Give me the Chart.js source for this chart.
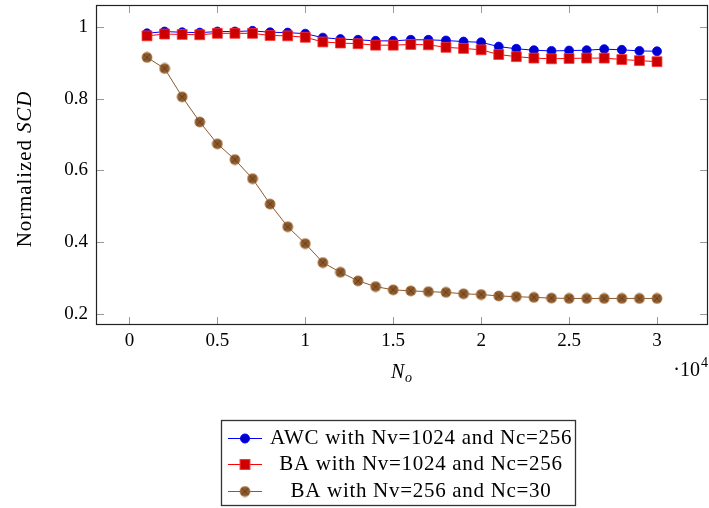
<!DOCTYPE html>
<html>
<head>
<meta charset="utf-8">
<script src="https://cdn.jsdelivr.net/npm/chart.js@4"></script>
<style>
  html, body { margin: 0; padding: 0; background: #fff; }
  #wrap { width: 709px; height: 508px; position: relative; }
</style>
</head>
<body>
<div id="wrap"><canvas id="grafico" width="709" height="508"></canvas></div>
<script>
// Numero de objetos (eje x)
const numObjetos = [1000, 2000, 3000, 4000, 5000, 6000, 7000, 8000, 9000, 10000,
  11000, 12000, 13000, 14000, 15000, 16000, 17000, 18000, 19000, 20000,
  21000, 22000, 23000, 24000, 25000, 26000, 27000, 28000, 29000, 30000];

// SCD normalizado por serie
const scdAWC1024 = [0.982, 0.987, 0.985, 0.984, 0.987, 0.987, 0.989, 0.985, 0.984, 0.981,
  0.970, 0.966, 0.964, 0.961, 0.961, 0.964, 0.964, 0.962, 0.959, 0.957,
  0.945, 0.939, 0.935, 0.933, 0.934, 0.935, 0.938, 0.936, 0.933, 0.932];
const scdBA1024 = [0.975, 0.980, 0.979, 0.978, 0.982, 0.982, 0.982, 0.976, 0.975, 0.971,
  0.958, 0.955, 0.953, 0.949, 0.949, 0.951, 0.950, 0.943, 0.940, 0.936,
  0.923, 0.917, 0.913, 0.911, 0.912, 0.913, 0.913, 0.909, 0.906, 0.903];
const scdBA256 = [0.915, 0.884, 0.805, 0.735, 0.674, 0.630, 0.577, 0.506, 0.443, 0.396,
  0.343, 0.316, 0.292, 0.276, 0.267, 0.264, 0.262, 0.260, 0.256, 0.254,
  0.250, 0.248, 0.246, 0.244, 0.243, 0.243, 0.243, 0.243, 0.243, 0.243];

const ticksX = [0, 5000, 10000, 15000, 20000, 25000, 30000];
const ticksY = [0.2, 0.4, 0.6, 0.8, 1];
const etiquetas = ['AWC with Nv=1024 and Nc=256', 'BA with Nv=1024 and Nc=256', 'BA with Nv=256 and Nc=30'];

const FUENTE = '"Liberation Serif", "DejaVu Serif", serif';

// Marcador circulo con cruz (otimes)
function marcaOtimes() {
  const c = document.createElement('canvas');
  c.width = 12; c.height = 12;
  const g = c.getContext('2d');
  g.beginPath();
  g.arc(6, 6, 5, 0, Math.PI * 2);
  g.fillStyle = '#8c5a2c';
  g.fill();
  g.lineWidth = 0.8;
  g.strokeStyle = '#a8703a';
  g.stroke();
  g.beginPath();
  const d = 5 * Math.SQRT1_2;
  g.moveTo(6 - d, 6 - d); g.lineTo(6 + d, 6 + d);
  g.moveTo(6 + d, 6 - d); g.lineTo(6 - d, 6 + d);
  g.strokeStyle = '#5e3a1a';
  g.lineWidth = 0.8;
  g.stroke();
  return c;
}
const otimes = marcaOtimes();

const puntos = (ys) => numObjetos.map((x, i) => ({ x: x, y: ys[i] }));

// Marco, ticks internos, titulos y leyenda al estilo pgfplots
const decoracion = {
  id: 'decoracion',
  afterDatasetsDraw(chart) {
    const ctx = chart.ctx;
    const a = chart.chartArea;
    const sx = chart.scales.x, sy = chart.scales.y;
    ctx.save();
    // ticks
    ctx.strokeStyle = '#9a9a9a';
    ctx.lineWidth = 1;
    ctx.beginPath();
    ticksX.forEach(v => {
      const px = Math.round(sx.getPixelForValue(v)) + 0.5;
      ctx.moveTo(px, a.bottom); ctx.lineTo(px, a.bottom - 8);
      ctx.moveTo(px, a.top); ctx.lineTo(px, a.top + 8);
    });
    ticksY.forEach(v => {
      const py = Math.round(sy.getPixelForValue(v)) + 0.5;
      ctx.moveTo(a.left, py); ctx.lineTo(a.left + 8, py);
      ctx.moveTo(a.right, py); ctx.lineTo(a.right - 8, py);
    });
    ctx.stroke();
    // marco
    ctx.strokeStyle = '#222';
    ctx.lineWidth = 1.2;
    ctx.strokeRect(a.left + 0.5, a.top + 0.5, a.right - a.left - 1, a.bottom - a.top - 1);

    // titulo eje y
    ctx.fillStyle = '#000';
    ctx.textBaseline = 'alphabetic';
    ctx.save();
    ctx.translate(31, 169);
    ctx.rotate(-Math.PI / 2);
    ctx.letterSpacing = '0.9px';
    ctx.font = '21px ' + FUENTE;
    const t1 = 'Normalized ';
    const w1 = ctx.measureText(t1).width;
    ctx.font = 'italic 21px ' + FUENTE;
    const w2 = ctx.measureText('SCD').width;
    const x0 = -(w1 + w2) / 2;
    ctx.font = '21px ' + FUENTE;
    ctx.textAlign = 'left';
    ctx.fillText(t1, x0, 0);
    ctx.font = 'italic 21px ' + FUENTE;
    ctx.fillText('SCD', x0 + w1, 0);
    ctx.letterSpacing = '0px';
    ctx.restore();

    // titulo eje x
    ctx.textAlign = 'left';
    ctx.font = 'italic 20px ' + FUENTE;
    ctx.fillText('N', 391, 378);
    ctx.font = 'italic 14px ' + FUENTE;
    ctx.fillText('o', 405, 382);

    // factor de escala
    ctx.font = '20px ' + FUENTE;
    ctx.textAlign = 'right';
    ctx.fillText('\u00b710', 700, 376);
    ctx.font = '14px ' + FUENTE;
    ctx.textAlign = 'left';
    ctx.fillText('4', 701, 367);

    // leyenda
    ctx.strokeStyle = '#333';
    ctx.lineWidth = 1.3;
    ctx.strokeRect(221.5, 420.5, 354, 85);
    const filas = [438, 464, 491];
    chart.data.datasets.forEach((ds, i) => {
      const y = filas[i];
      ctx.strokeStyle = ds.borderColor;
      ctx.lineWidth = 1;
      ctx.beginPath();
      ctx.moveTo(228, y + 0.5); ctx.lineTo(262, y + 0.5);
      ctx.stroke();
      if (ds.pointStyle === 'circle') {
        ctx.beginPath();
        ctx.arc(245, y + 0.5, ds.pointRadius, 0, Math.PI * 2);
        ctx.fillStyle = ds.pointBackgroundColor;
        ctx.fill();
        ctx.strokeStyle = ds.pointBorderColor;
        ctx.stroke();
      } else if (ds.pointStyle === 'rect') {
        const s = ds.pointRadius * Math.SQRT1_2;
        ctx.fillStyle = ds.pointBackgroundColor;
        ctx.fillRect(245 - s, y + 0.5 - s, 2 * s, 2 * s);
        ctx.strokeStyle = ds.pointBorderColor;
        ctx.strokeRect(245 - s, y + 0.5 - s, 2 * s, 2 * s);
      } else {
        ctx.drawImage(ds.pointStyle, 245 - 6, y + 0.5 - 6);
      }
      ctx.fillStyle = '#000';
      ctx.font = '21px ' + FUENTE;
      ctx.letterSpacing = '0.7px';
      ctx.textAlign = 'center';
      ctx.textBaseline = 'alphabetic';
      ctx.fillText(etiquetas[i], 421, y + 5.5);
      ctx.letterSpacing = '0px';
    });
    ctx.restore();
  }
};

new Chart(document.getElementById('grafico').getContext('2d'), {
  type: 'line',
  data: {
    datasets: [
      {
        label: etiquetas[0],
        data: puntos(scdAWC1024),
        borderColor: '#0000ff',
        borderWidth: 1,
        pointStyle: 'circle',
        pointRadius: 4.5,
        pointBackgroundColor: '#0000cc',
        pointBorderColor: '#0000ff',
        pointBorderWidth: 0.8,
        tension: 0,
        order: 3
      },
      {
        label: etiquetas[1],
        data: puntos(scdBA1024),
        borderColor: '#ff0000',
        borderWidth: 1,
        pointStyle: 'rect',
        pointRadius: 7,
        pointBackgroundColor: '#cc0000',
        pointBorderColor: '#ff3333',
        pointBorderWidth: 0.8,
        tension: 0,
        order: 2
      },
      {
        label: etiquetas[2],
        data: puntos(scdBA256),
        borderColor: '#8c5a2c',
        borderWidth: 1,
        pointStyle: otimes,
        pointRadius: 5,
        tension: 0,
        order: 1
      }
    ]
  },
  options: {
    responsive: false,
    animation: false,
    devicePixelRatio: 1,
    layout: { autoPadding: false, padding: { top: 5, right: 1, left: 0, bottom: 0 } },
    plugins: {
      legend: { display: false },
      tooltip: { enabled: false }
    },
    scales: {
      x: {
        type: 'linear',
        min: -1900,
        max: 32900,
        grid: { display: false, drawTicks: false },
        border: { display: false },
        afterBuildTicks: s => { s.ticks = ticksX.map(v => ({ value: v })); },
        afterFit: s => { s.height = 183; s.paddingLeft = 0; s.paddingRight = 0; },
        ticks: {
          padding: 5,
          color: '#000',
          font: { family: FUENTE, size: 19 },
          callback: v => String(v / 10000)
        }
      },
      y: {
        type: 'linear',
        min: 0.169,
        max: 1.061,
        grid: { display: false, drawTicks: false },
        border: { display: false },
        afterBuildTicks: s => { s.ticks = ticksY.map(v => ({ value: v })); },
        afterFit: s => { s.width = 96; s.paddingTop = 0; s.paddingBottom = 0; },
        ticks: {
          padding: 8,
          color: '#000',
          font: { family: FUENTE, size: 19 },
          callback: v => String(Math.round(v * 10) / 10)
        }
      }
    }
  },
  plugins: [decoracion]
});
</script>
</body>
</html>
